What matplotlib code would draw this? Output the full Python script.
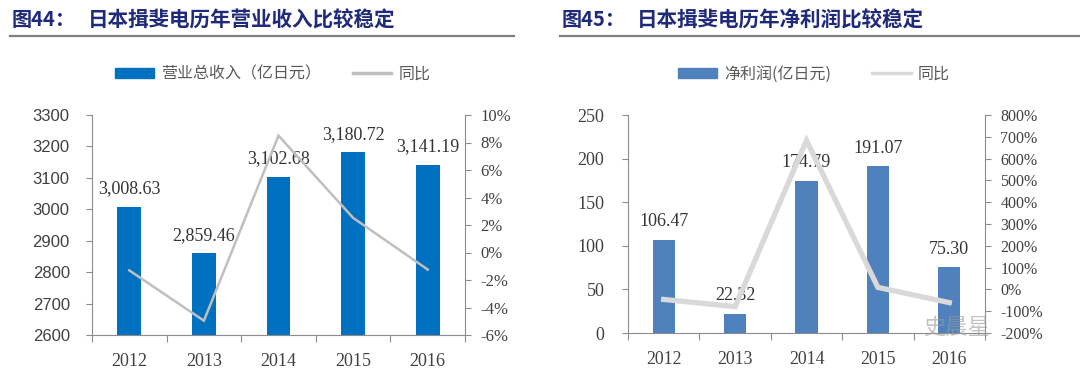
import matplotlib
matplotlib.use("Agg")
import matplotlib.pyplot as plt
from matplotlib.lines import Line2D
from matplotlib.patches import Patch
import numpy as np

plt.rcParams['font.family'] = ['Noto Sans CJK SC', 'DejaVu Sans']

years = ['2012', '2013', '2014', '2015', '2016']
revenue = [3008.63, 2859.46, 3102.68, 3180.72, 3141.19]
revenue_yoy = [-1.3, -4.96, 8.5, 2.52, -1.24]
profit = [106.47, 22.32, 174.79, 191.07, 75.30]
profit_yoy = [-46, -79, 683, 9.3, -60.6]

title_left = '图44：'
title_left2 = '日本揖斐电历年营业收入比较稳定'
title_right = '图45：'
title_right2 = '日本揖斐电历年净利润比较稳定'
leg_left = ['营业总收入（亿日元）', '同比']
leg_right = ['净利润(亿日元)', '同比']

W, H = 1080, 378
fig = plt.figure(figsize=(W / 100, H / 100), dpi=100)

def fx(px):
    return px / W

def fy(py):
    return 1 - py / H

TITLE_C = '#1f2a7a'
AX_C = '#8c8c8c'

# titles and rules
for x0, x1, t1, t2 in [(12, 88, title_left, title_left2),
                       (562, 637, title_right, title_right2)]:
    fig.text(fx(x0), fy(20), t1, color=TITLE_C, fontsize=14.5, fontweight='bold', va='center', ha='left')
    fig.text(fx(x1), fy(20), t2, color=TITLE_C, fontsize=14.8, fontweight='bold', va='center', ha='left')
for a, b in [(10, 514), (560, 1080)]:
    fig.add_artist(Line2D([fx(a), fx(b)], [fy(36), fy(36)], color='#7f7f7f', lw=1.6))

def make_chart(rect, vals, yoy, ylim, yticks, y2lim, y2ticks, bar_color, line_color, lw,
               left_font, left_fs, left_pad, year_fs, right_fs, fmt, bw):
    ax = fig.add_axes(rect)
    x = np.arange(len(years))
    ax.bar(x, vals, width=bw, color=bar_color, zorder=2)
    ax.set_xlim(-0.5, len(years) - 0.5)
    ax.set_ylim(*ylim)
    ax.set_yticks(yticks)
    ax.set_yticklabels([str(v) for v in yticks], family=left_font, fontsize=left_fs, color='#404040')
    ax.set_xticks(np.arange(-0.5, len(years), 1.0))
    ax.set_xticklabels([])
    ax.set_xticks(x, minor=True)
    ax.set_xticklabels(years, minor=True, family='Liberation Serif', fontsize=year_fs, color='#404040')
    ax.tick_params(axis='x', which='major', length=5, color=AX_C, direction='out')
    ax.tick_params(axis='x', which='minor', length=0, pad=13)
    ax.tick_params(axis='y', length=4, color=AX_C, direction='out', pad=left_pad)
    for s in ['top', 'right']:
        ax.spines[s].set_visible(False)
    for s in ['left', 'bottom']:
        ax.spines[s].set_color(AX_C)
    for xi, v in zip(x, vals):
        ax.annotate(fmt(v), (xi, v), xytext=(0, 7), textcoords='offset points',
                    ha='center', va='bottom', family='Liberation Serif', fontsize=13,
                    color='#333333', zorder=5)
    ax2 = ax.twinx()
    ax2.plot(x, yoy, color=line_color, lw=lw, zorder=3, solid_joinstyle='miter')
    ax2.set_ylim(*y2lim)
    ax2.set_yticks(y2ticks)
    ax2.set_yticklabels([f'{v:g}%' for v in y2ticks], family='Liberation Serif', fontsize=right_fs,
                        color='#404040')
    ax2.tick_params(axis='y', length=4, color=AX_C, direction='out', pad=7)
    for s in ['top', 'left', 'bottom']:
        ax2.spines[s].set_visible(False)
    ax2.spines['right'].set_color(AX_C)
    handles = [Patch(color=bar_color), Line2D([], [], color=line_color, lw=2.5)]
    return ax, ax2, handles

axL, axL2, hL = make_chart([fx(92), fy(335), fx(465 - 92), (335 - 115) / H],
                           revenue, revenue_yoy, (2600, 3300), list(range(2600, 3301, 100)),
                           (-6, 10), list(range(-6, 11, 2)), '#0070c0', '#bfbfbf', 1.8,
                           'Liberation Sans', 12, 12, 13, 12, lambda v: f'{v:,.2f}', 0.32)
axR, axR2, hR = make_chart([fx(628), fy(333), fx(985 - 628), (333 - 115) / H],
                           profit, profit_yoy, (0, 250), list(range(0, 251, 50)),
                           (-200, 800), list(range(-200, 801, 100)), '#4f81bd', '#d9d9d9', 3.8,
                           'Liberation Serif', 13, 13, 12.8, 11.5, lambda v: f'{v:.2f}', 0.31)

fig.legend(hL, leg_left, loc='center left', bbox_to_anchor=(fx(101), fy(74)), ncol=2,
           frameon=False, fontsize=11.5, handlelength=2.4, handleheight=0.6, columnspacing=2.0,
           handletextpad=0.45, labelcolor='#595959')
fig.legend(hR, leg_right, loc='center left', bbox_to_anchor=(fx(664), fy(74)), ncol=2,
           frameon=False, fontsize=11.5, handlelength=2.4, handleheight=0.6, columnspacing=2.6,
           handletextpad=0.45, labelcolor='#595959')

# watermark
fig.text(fx(990), fy(327), '史晨星', fontsize=16, color='#9a9a9a', alpha=0.6, va='center', ha='right')

fig.savefig('out.png', dpi=100)
